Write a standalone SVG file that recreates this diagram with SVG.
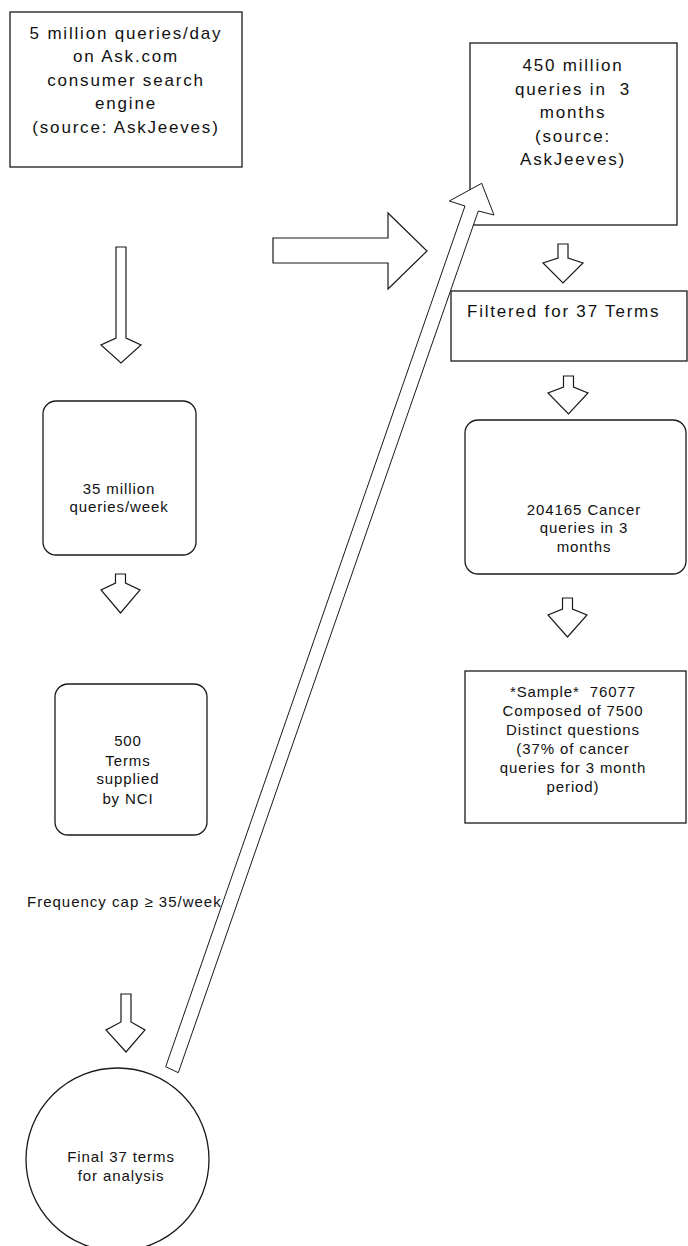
<svg xmlns="http://www.w3.org/2000/svg" width="688" height="1246" viewBox="0 0 688 1246">
<style>
.box{fill:#fff;stroke:#1a1a1a;stroke-width:1.3}
.arr{fill:#fff;stroke:#1a1a1a;stroke-width:1.2;stroke-linejoin:miter}
.big{font-family:"Liberation Sans",Arial,sans-serif;font-size:17px;letter-spacing:1.8px;fill:#111;text-anchor:middle}
.sm{font-family:"Liberation Sans",Arial,sans-serif;font-size:15px;letter-spacing:0.9px;fill:#111;text-anchor:middle}
.pre{white-space:pre}
</style>
<rect width="688" height="1246" fill="#fff"/>
<g id="n-daily">
<rect class="box" x="10" y="12" width="232" height="155"/>
<text class="big" x="126" y="38.5">5 million queries/day</text>
<text class="big" x="126" y="62">on Ask.com</text>
<text class="big" x="126" y="85.5">consumer search</text>
<text class="big" x="126" y="109">engine</text>
<text class="big" x="126" y="132.5">(source: AskJeeves)</text>
</g>
<g id="n-450m">
<rect class="box" x="470" y="43" width="207" height="182"/>
<text class="big" x="573" y="71">450 million</text>
<text class="big pre" x="573" y="94.5">queries in  3</text>
<text class="big" x="573" y="118">months</text>
<text class="big" x="573" y="141.5">(source:</text>
<text class="big" x="573" y="165">AskJeeves)</text>
</g>
<g id="n-filtered">
<rect class="box" x="451" y="291" width="236" height="70"/>
<text class="big" x="467" y="317" style="text-anchor:start">Filtered for 37 Terms</text>
</g>
<g id="n-cancer">
<rect class="box" x="465" y="420" width="221" height="154" rx="13"/>
<text class="sm" x="584" y="514.5">204165 Cancer</text>
<text class="sm" x="584" y="533">queries in 3</text>
<text class="sm" x="584" y="551.5">months</text>
</g>
<g id="n-sample">
<rect class="box" x="465" y="671" width="221" height="152"/>
<text class="sm pre" x="573" y="697">*Sample*  76077</text>
<text class="sm" x="573" y="716">Composed of 7500</text>
<text class="sm" x="573" y="735">Distinct questions</text>
<text class="sm" x="573" y="754">(37% of cancer</text>
<text class="sm" x="573" y="773">queries for 3 month</text>
<text class="sm" x="573" y="792">period)</text>
</g>
<g id="n-35m">
<rect class="box" x="43" y="401" width="153" height="154" rx="13"/>
<text class="sm" x="119" y="494">35 million</text>
<text class="sm" x="119" y="511.5">queries/week</text>
</g>
<g id="n-500">
<rect class="box" x="55" y="684" width="152" height="151" rx="13"/>
<text class="sm" x="128" y="746">500</text>
<text class="sm" x="128" y="765.5">Terms</text>
<text class="sm" x="128" y="784">supplied</text>
<text class="sm" x="128" y="804">by NCI</text>
</g>
<g id="n-final">
<circle class="box" cx="117.5" cy="1159.5" r="91.5"/>
<text class="sm" x="121" y="1162">Final 37 terms</text>
<text class="sm" x="121" y="1181">for analysis</text>
</g>
<g id="connectors">
<path class="arr" d="M116,247 H126 V338 L141,345 L121,363 L101,345 L116,338 Z"/>
<path class="arr" d="M115.5,574 H125.5 V583 L140,590 L120.5,613 L101,590 L115.5,583 Z"/>
<path class="arr" d="M121,994 H131 V1022 L145,1030 L126,1052 L106,1030 L121,1022 Z"/>
<path class="arr" d="M273,238 H388 V213 L427,251 L388,289 V263 H273 Z"/>
<path class="arr" d="M558,244 H568 V258 L583,263 L563,283 L543,263 L558,258 Z"/>
<path class="arr" d="M563.5,376 H573.5 V387 L588,393 L568.5,414 L548,393 L563.5,387 Z"/>
<path class="arr" d="M562.5,598 H572.5 V609 L587,615 L567.5,637 L548,615 L562.5,609 Z"/>
<path class="arr" d="M165.7,1066.7 L465,206 L449.3,201 L481.7,183.3 L494,215 L478.3,211 L178.3,1072.7 Z" style="stroke-width:1"/>
<text class="sm" x="27" y="907" style="text-anchor:start;letter-spacing:1px">Frequency cap ≥ 35/week</text>
</g>
</svg>
